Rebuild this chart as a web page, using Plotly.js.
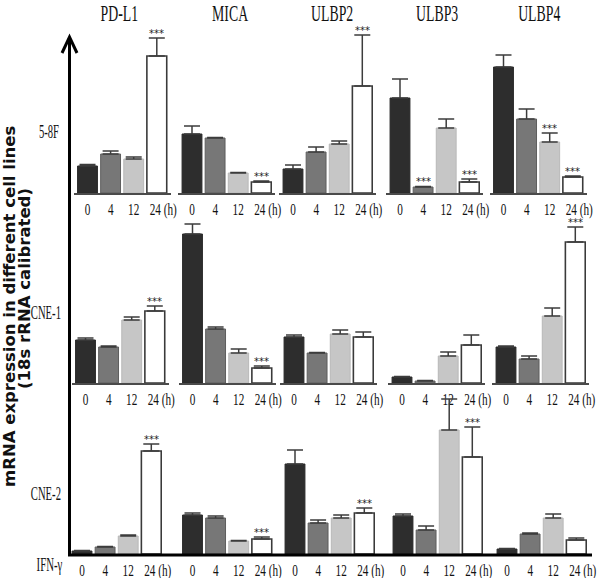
<!DOCTYPE html>
<html>
<head>
<meta charset="utf-8">
<script src="https://cdn.plot.ly/plotly-3.0.1.min.js"></script>
<style>html,body{margin:0;padding:0;background:#fff;}#chart{width:597px;height:578px;}</style>
</head>
<body>
<div id="chart"></div>
<script>
// ---- data (relative mRNA expression, arbitrary units) ----
const timepoints = ['0', '4', '12', '24 (h)'];
const genes = ['PD-L1', 'MICA', 'ULBP2', 'ULBP3', 'ULBP4'];
const cellLines = ['5-8F', 'CNE-1', 'CNE-2'];

// means per gene (PD-L1, MICA, ULBP2, ULBP3, ULBP4), timepoints 0,4,12,24 h
const mean58F = [[27, 39, 34, 137], [59, 55, 20, 11], [24, 41, 49, 107], [95, 6, 65, 11], [126, 74, 51, 16]];
const err58F  = [[1.5, 3, 2, 18], [8, 0.5, 0.5, 1], [4, 5, 3, 51], [19, 0.5, 9, 3], [12, 10, 9, 1]];
const meanCNE1 = [[43, 36, 63, 72], [149, 54, 30, 15], [46, 30, 49, 46], [6, 2, 27, 38], [36, 24, 67, 141]];
const errCNE1  = [[2, 1, 3, 5], [10, 2, 4, 2], [2, 0.5, 4, 5], [0.5, 0.5, 4, 10], [1, 3, 8, 15]];
const meanCNE2 = [[3, 7, 18, 103], [39, 36, 13, 15], [90, 31, 36, 41], [38, 24, 124, 97], [5, 20, 36, 14]];
const errCNE2  = [[0.5, 0.5, 1, 7], [2, 2, 0.5, 2], [14, 3, 3, 5], [2, 4, 31, 30], [0.5, 1, 4, 2]];
// significant (***) timepoint indices per gene
const sig58F  = [[3], [3], [3], [1, 3], [2, 3]];
const sigCNE1 = [[3], [3], [], [], [3]];
const sigCNE2 = [[3], [3], [3], [3], []];

const means = [mean58F, meanCNE1, meanCNE2];
const errs = [err58F, errCNE1, errCNE2];
const sigs = [sig58F, sigCNE1, sigCNE2];

// ---- layout helpers ----
const W = 597, H = 578;
const px = x => x / W;
const py = y => 1 - y / H;
const serif = '"Liberation Serif", "Times New Roman", serif';
const sans = '"DejaVu Sans", Verdana, sans-serif';
const barColors = ['#2d2d2d', '#777777', '#c6c6c6', '#ffffff'];
const barLines = ['#2a2a2a', '#5e5e5e', '#b8b8b8', '#3a3a3a'];

const firstBarCenter = [[87.5, 192, 293, 400, 503.5], [85.5, 192.5, 294, 402, 506], [82, 192.5, 295, 403, 507]];
const rowBase = [193, 383, 554];
const rowHeight = 165;
const step = 23.1;

const data = [];
const layout = {
  width: W, height: H,
  margin: {l: 0, r: 0, t: 0, b: 0},
  paper_bgcolor: '#fff', plot_bgcolor: 'rgba(0,0,0,0)',
  showlegend: false,
  annotations: [], shapes: []
};

for (let r = 0; r < 3; r++) {
  for (let g = 0; g < 5; g++) {
    const n = r * 5 + g + 1;
    const xs = 'x' + n, ys = 'y' + n;
    const vals = means[r][g], e = errs[r][g];
    data.push({
      type: 'bar', x: [0, 1, 2, 3], y: vals, width: 0.86,
      xaxis: xs, yaxis: ys,
      marker: {color: barColors, line: {color: barLines, width: [1, 1, 1, 1.6]}},
      error_y: {type: 'data', symmetric: false, array: e, arrayminus: [0, 0, 0, 0],
                color: '#3c3c3c', thickness: 1.5, width: 8},
      cliponaxis: false, hoverinfo: 'skip'
    });
    const x0 = firstBarCenter[r][g] - 0.6 * step;
    layout['xaxis' + n] = {
      domain: [px(x0), px(x0 + 4.2 * step)], range: [-0.6, 3.6], anchor: ys,
      tickvals: [0, 1, 2, 3.28], ticktext: timepoints, ticks: '', tickangle: 0,
      ticklabeloverflow: 'allow', ticklabelstandoff: 0,
      tickfont: {family: serif, size: 17, color: '#111'},
      showline: true, linecolor: '#4a4a4a', linewidth: 1.5,
      showgrid: false, zeroline: false, fixedrange: true
    };
    layout['yaxis' + n] = {
      domain: [py(rowBase[r]), py(rowBase[r] - rowHeight)], range: [0, rowHeight], anchor: xs,
      visible: false, fixedrange: true
    };
    sigs[r][g].forEach(i => {
      layout.annotations.push({
        xref: xs, yref: ys, x: i, y: vals[i] + e[i], xanchor: 'center', yanchor: 'bottom', yshift: -3,
        text: '***', showarrow: false, font: {family: sans, size: 10, color: '#222'}
      });
    });
  }
}

// gene titles
const titleX = [119, 229.5, 332, 436.5, 539.5];
genes.forEach((t, g) => layout.annotations.push({
  xref: 'paper', yref: 'paper', x: px(titleX[g]), y: py(13), xanchor: 'center', yanchor: 'middle',
  text: t, showarrow: false, font: {family: serif, size: 23, color: '#111'}
}));
// cell line labels
const rowLabelX = [48.5, 46, 46];
const rowLabelY = [132, 312, 493];
cellLines.forEach((t, r) => layout.annotations.push({
  xref: 'paper', yref: 'paper', x: px(rowLabelX[r]), y: py(rowLabelY[r]), xanchor: 'center', yanchor: 'middle',
  text: t, showarrow: false, font: {family: serif, size: 19, color: '#111'}
}));
layout.annotations.push({
  xref: 'paper', yref: 'paper', x: px(49), y: py(565), xanchor: 'center', yanchor: 'middle',
  text: 'IFN-γ', showarrow: false, font: {family: serif, size: 18, color: '#111'}
});
// y-axis title
layout.annotations.push({
  xref: 'paper', yref: 'paper', x: px(9), y: py(307), xanchor: 'center', yanchor: 'middle', textangle: -90,
  text: 'mRNA expression in different cell lines', showarrow: false,
  font: {family: sans, size: 16.5, color: '#111', weight: 'bold'}
});
layout.annotations.push({
  xref: 'paper', yref: 'paper', x: px(24), y: py(289), xanchor: 'center', yanchor: 'middle', textangle: -90,
  text: '(18s rRNA calibrated)', showarrow: false,
  font: {family: sans, size: 16.5, color: '#111', weight: 'bold'}
});

// vertical arrow axis and bottom baseline
layout.shapes.push({type: 'line', xref: 'paper', yref: 'paper', x0: px(69.5), x1: px(69.5), y0: py(555), y1: py(38),
  line: {color: '#000', width: 3}});
layout.shapes.push({type: 'path', xref: 'paper', yref: 'paper',
  path: `M ${px(62)} ${py(53)} L ${px(69.5)} ${py(37)} L ${px(77)} ${py(53)}`,
  line: {color: '#000', width: 3}});
layout.shapes.push({type: 'line', xref: 'paper', yref: 'paper', x0: px(68), x1: px(592), y0: py(555), y1: py(555),
  line: {color: '#000', width: 3}});

// the original uses a narrow (condensed) serif face: compress serif texts horizontally
const condenseBySize = {17: 0.66, 18: 0.6, 19: 0.56, 23: 0.6};
function condense(gd) {
  gd.querySelectorAll('text').forEach(el => {
    const ff = (el.style.fontFamily || '') + (el.getAttribute('font-family') || '');
    if (ff.indexOf('Liberation Serif') < 0 || el.dataset.cond) return;
    const size = Math.round(parseFloat(el.style.fontSize || '17'));
    const s = condenseBySize[size] || 0.64;
    const b = el.getBBox();
    const cx = b.x + b.width / 2;
    const t = el.getAttribute('transform') || '';
    el.setAttribute('transform', `${t} translate(${cx},0) scale(${s},1) translate(${-cx},0)`);
    el.dataset.cond = '1';
  });
}

Plotly.newPlot('chart', data, layout, {displayModeBar: false, staticPlot: true})
  .then(gd => condense(gd));
</script>
</body>
</html>
